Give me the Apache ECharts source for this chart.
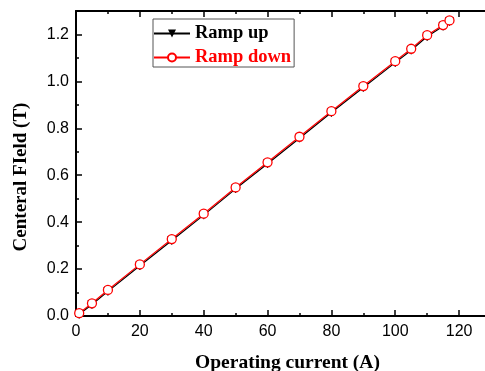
<!DOCTYPE html>
<html><head><meta charset="utf-8">
<script src="https://cdn.jsdelivr.net/npm/echarts@6/dist/echarts.min.js"></script>
<style>html,body{margin:0;padding:0;background:#fff}#c{width:485px;height:371px}</style>
</head><body><div id="c"></div>
<script>
const current = [1, 5, 10, 20, 30, 40, 50, 60, 70, 80, 90, 100, 105, 110, 115, 117];
const rampUp = [0.007, 0.049, 0.105, 0.214, 0.322, 0.430, 0.542, 0.649, 0.758, 0.867, 0.974, 1.080, 1.133, 1.191, 1.235, 1.255];
const rampDown = [0.012, 0.054, 0.111, 0.220, 0.328, 0.436, 0.548, 0.655, 0.764, 0.873, 0.980, 1.086, 1.139, 1.197, 1.240, 1.260];
const xTitle = 'Operating current (A)';
const yTitle = 'Centeral FIeld (T)';
const serif = '"Liberation Serif","Times New Roman",serif';
const sans = '"Liberation Sans",Arial,sans-serif';

const chart = echarts.init(document.getElementById('c'));
const axisCommon = {
  axisLine: {lineStyle: {color: '#000', width: 2}},
  axisTick: {inside: true, length: 6, lineStyle: {color: '#000', width: 1.5}},
  minorTick: {show: true, splitNumber: 2, length: 3, lineStyle: {color: '#000', width: 1.5}},
  splitLine: {show: false}
};
chart.setOption({
  animation: false,
  grid: {left: 76, width: 415, top: 11, height: 305, containLabel: false, outerBoundsMode: 'none'},
  legend: {
    orient: 'vertical', left: 153, top: 19,
    borderColor: '#555', borderWidth: 1, padding: [5, 3, 0, 0],
    itemWidth: 36, itemHeight: 10, itemGap: 5,
    textStyle: {fontFamily: serif, fontWeight: 'bold', fontSize: 18.5},
    data: [
      {name: 'Ramp up', textStyle: {color: '#000'}},
      {name: 'Ramp down', textStyle: {color: '#ff0000'}}
    ]
  },
  xAxis: [
    Object.assign({
      type: 'value', min: 0, max: 130, interval: 20, position: 'bottom',
      name: xTitle, nameLocation: 'middle', nameGap: 37,
      nameTextStyle: {fontFamily: serif, fontWeight: 'bold', fontSize: 19.5, color: '#000', padding: [0, 0, 0, 8]},
      axisLabel: {fontFamily: sans, fontSize: 16, color: '#000', margin: 8,
        formatter: v => (v % 20 === 0 ? String(v) : '')}
    }, axisCommon),
    Object.assign({
      type: 'value', min: 0, max: 130, interval: 20, position: 'top',
      axisLabel: {show: false}
    }, axisCommon)
  ],
  yAxis: [
    Object.assign({
      type: 'value', min: 0, max: 1.3, interval: 0.2,
      axisLabel: {fontFamily: sans, fontSize: 16, color: '#000', margin: 7,
        formatter: v => (Math.abs(Math.round(v * 10) % 2) === 0 ? v.toFixed(1) : '')}
    }, axisCommon)
  ],
  graphic: [{
    type: 'text', x: 21, y: 177, rotation: Math.PI / 2,
    style: {text: yTitle, fontFamily: serif, fontWeight: 'bold', fontSize: 19, fill: '#000',
      align: 'center', verticalAlign: 'middle'}
  }],
  series: [
    {
      name: 'Ramp up', type: 'line', xAxisIndex: 0,
      data: current.map((x, i) => [x, rampUp[i]]),
      symbol: 'triangle', symbolRotate: 180, symbolSize: 8,
      lineStyle: {color: '#000', width: 1.2},
      itemStyle: {color: '#000', borderColor: '#000'}
    },
    {
      name: 'Ramp down', type: 'line', xAxisIndex: 0,
      data: current.map((x, i) => [x, rampDown[i]]),
      symbol: 'circle', symbolSize: 9,
      lineStyle: {color: '#ff0000', width: 1.2},
      itemStyle: {color: '#fff', borderColor: '#ff0000', borderWidth: 1.3}
    }
  ]
});
</script></body></html>
